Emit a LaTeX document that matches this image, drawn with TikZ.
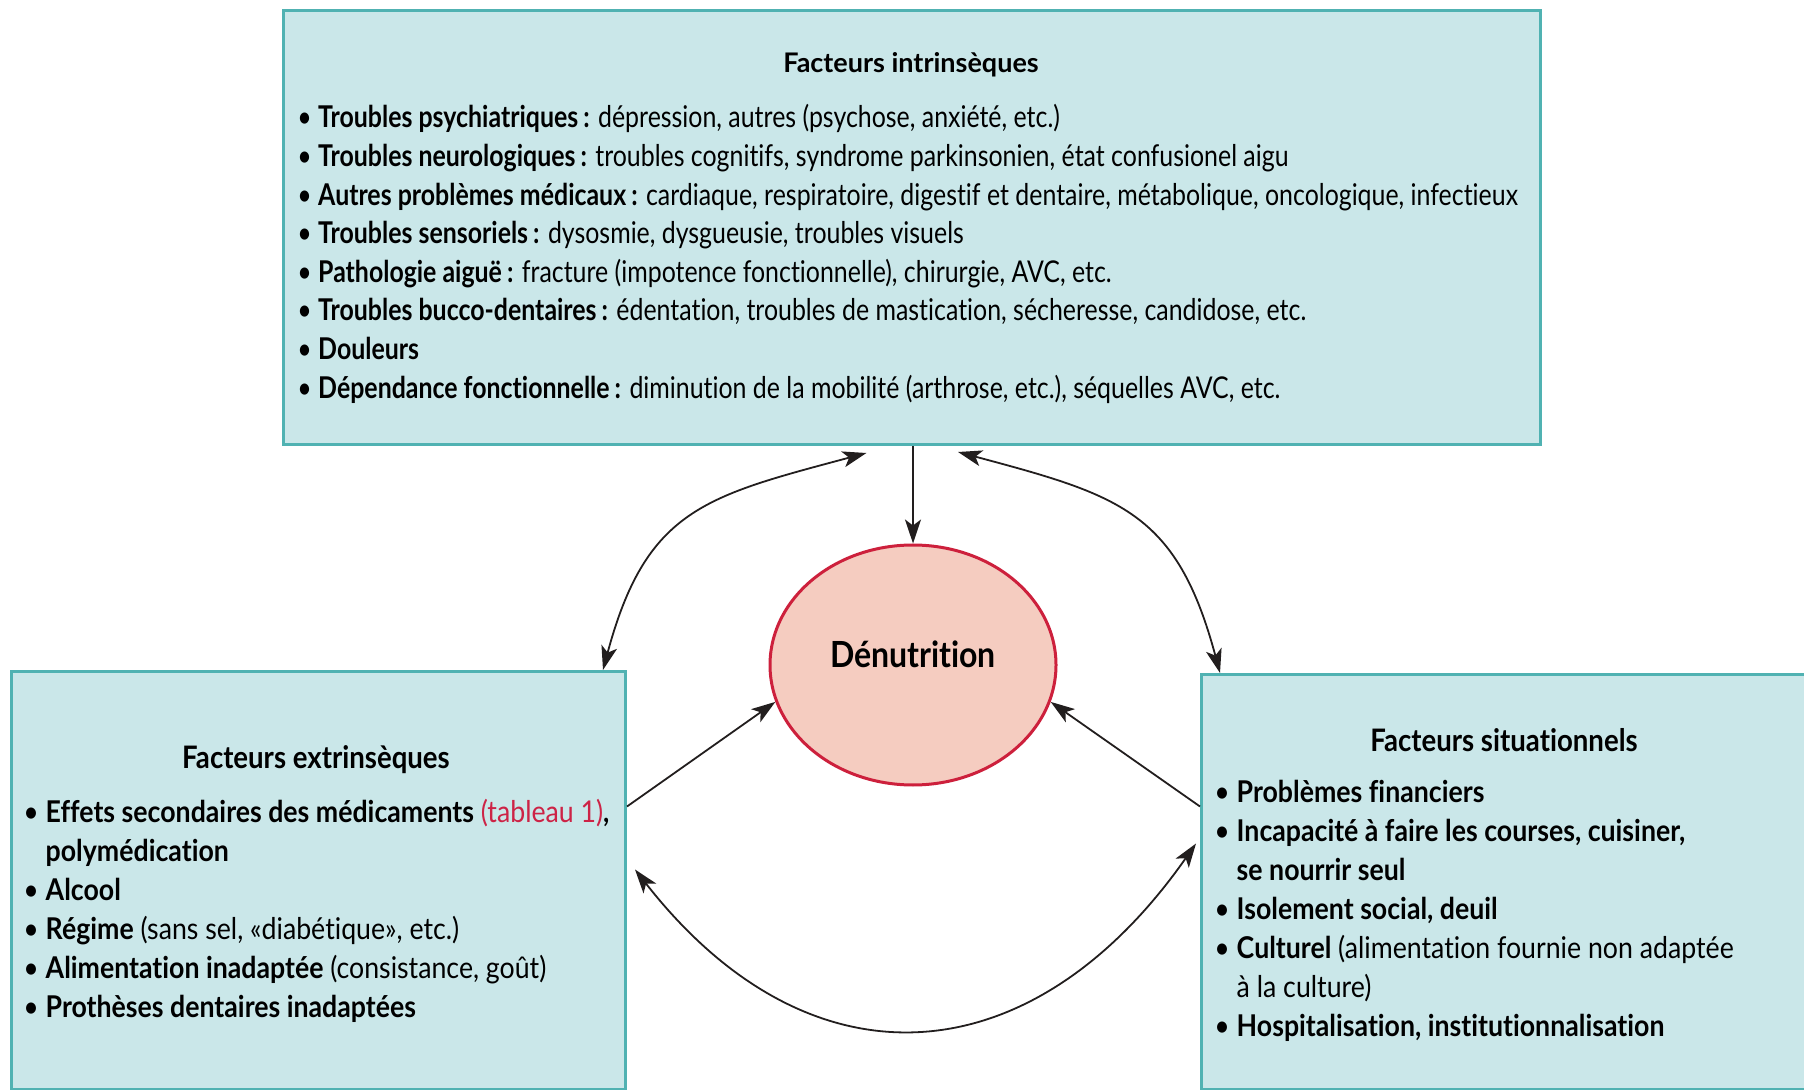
\documentclass[tikz,border=0pt]{standalone}
\usepackage{fontspec}
\setmainfont{Lato}
\newfontfamily\boxfont[FakeStretch=0.89, Ligatures=NoCommon]{Lato}
\newfontfamily\topfont[FakeStretch=0.83, Ligatures=NoCommon]{Lato}
\usetikzlibrary{arrows.meta, shapes.geometric, positioning}
\definecolor{boxfill}{RGB}{202,231,233}
\definecolor{boxline}{RGB}{80,178,178}
\definecolor{denutfill}{RGB}{245,204,192}
\definecolor{denutline}{RGB}{205,32,60}
\definecolor{reftext}{RGB}{205,35,70}
\definecolor{arrowc}{RGB}{34,30,30}
\tikzset{%
>={Stealth[length=12pt,width=8pt,inset=3pt]},
  % boxes and texts
            factbox/.style = {rectangle, draw=boxline, line width=1.5pt,
                            fill=boxfill, inner sep=0pt, anchor=north west},
            boxtitle/.style = {font=\boxfont\bfseries\fontsize{15.5}{18}\selectfont,
                            inner sep=0pt, anchor=base},
            itemlist/.style = {font=\boxfont\fontsize{15}{19.5}\selectfont,
                            inner sep=0pt, anchor=base west},
            link/.style = {draw=arrowc, line width=0.9pt}
}

\begin{document}
\begin{tikzpicture}[x=0.5pt, y=0.5pt]
\useasboundingbox (0,0) rectangle (1804,-1090);

% the three boxes
\node[factbox, minimum width=628.5pt, minimum height=217pt] (intr) at (282,-9) {};
\node[factbox, minimum width=307pt, minimum height=209pt] (extr) at (10,-670) {};
\node[factbox, minimum width=305pt, minimum height=207.5pt] (sit) at (1200,-673) {};

\node[ellipse, draw=denutline, line width=1.5pt, fill=denutfill,
      minimum width=143pt, minimum height=120pt, inner sep=0pt,
      text height=2pt, text depth=0pt,
      font=\boxfont\bfseries\fontsize{18}{21}\selectfont] (denut) at (913,-665) {Dénutrition};

% intrinsic factors
\node[boxtitle, font=\bfseries\fontsize{13.5}{16}\selectfont] (intrtitle) at (911,-73) {Facteurs intrinsèques};
\node[itemlist, font=\topfont\fontsize{15}{19.3}\selectfont] (intrlist) at (297,-128) {%
\begin{tabular}[t]{@{}l@{ }l@{}}
• & \textbf{Troubles psychiatriques\,:} dépression, autres (psychose, anxiété, etc.)\\
• & \textbf{Troubles neurologiques\,:} troubles cognitifs, syndrome parkinsonien, état confusionel aigu\\
• & \textbf{Autres problèmes médicaux\,:} cardiaque, respiratoire, digestif et dentaire, métabolique, oncologique, infectieux\\
• & \textbf{Troubles sensoriels\,:} dysosmie, dysgueusie, troubles visuels\\
• & \textbf{Pathologie aiguë\,:} fracture (impotence fonctionnelle), chirurgie, AVC, etc.\\
• & \textbf{Troubles bucco-dentaires\,:} édentation, troubles de mastication, sécheresse, candidose, etc.\\
• & \textbf{Douleurs}\\
• & \textbf{Dépendance fonctionnelle\,:} diminution de la mobilité (arthrose, etc.), séquelles AVC, etc.
\end{tabular}};

% extrinsic factors
\node[boxtitle] (extrtitle) at (316,-768) {Facteurs extrinsèques};
\node[itemlist] (extrlist) at (23,-822) {%
\begin{tabular}[t]{@{}l@{ }l@{}}
• & \textbf{Effets secondaires des médicaments} {\color{reftext}(tableau 1)}\textbf{,}\\
  & \textbf{polymédication}\\
• & \textbf{Alcool}\\
• & \textbf{Régime} (sans sel, «diabétique», etc.)\\
• & \textbf{Alimentation inadaptée} (consistance, goût)\\
• & \textbf{Prothèses dentaires inadaptées}
\end{tabular}};

% situational factors
\node[boxtitle] (sittitle) at (1504,-751) {Facteurs situationnels};
\node[itemlist] (sitlist) at (1214,-802) {%
\begin{tabular}[t]{@{}l@{ }l@{}}
• & \textbf{Problèmes financiers}\\
• & \textbf{Incapacité à faire les courses, cuisiner,}\\
  & \textbf{se nourrir seul}\\
• & \textbf{Isolement social, deuil}\\
• & \textbf{Culturel} (alimentation fournie non adaptée\\
  & à la culture)\\
• & \textbf{Hospitalisation, institutionnalisation}
\end{tabular}};

% arrows
\draw[link, ->] (intr.south -| denut.north) -- (denut.north);
\draw[link, <->] ([xshift=-12pt]extr.north east) to[out=75, in=195, looseness=1.25]
      ([xshift=-22.75pt, yshift=-3.5pt]intr.south);
\draw[link, <->] ([xshift=23pt, yshift=-3pt]intr.south) to[out=-15, in=105, looseness=1.25]
      ([xshift=10pt]sit.north west);
\draw[link, ->] ([yshift=37pt]extr.east) -- (denut.195);
\draw[link, ->] ([yshift=37.75pt]sit.west) -- (denut.345);
\draw[link, <->] ([xshift=4pt, yshift=5.5pt]extr.east) to[out=-52, in=235, looseness=1.3]
      ([xshift=-2pt, yshift=19.25pt]sit.west);
\end{tikzpicture}
\end{document}
